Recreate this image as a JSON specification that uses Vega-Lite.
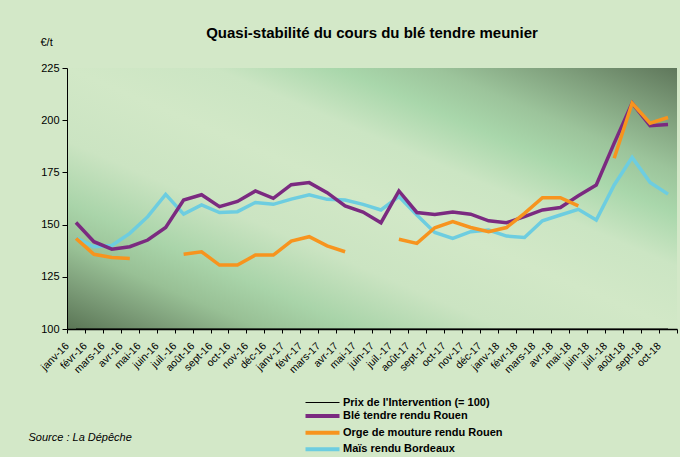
{
  "$schema": "https://vega.github.io/schema/vega-lite/v6.json",
  "autosize": "none",
  "width": 610,
  "height": 261,
  "padding": {"left": 67, "top": 68, "right": 3, "bottom": 128},
  "background": "#d3e8c8",
  "config": {
    "font": "Liberation Sans",
    "view": {
      "stroke": null,
      "fill": {
        "gradient": "linear",
        "x1": 0, "y1": 1, "x2": 1, "y2": 0,
        "stops": [
          {"offset": 0, "color": "#5a7555"},
          {"offset": 0.08, "color": "#7a9a76"},
          {"offset": 0.16, "color": "#98c095"},
          {"offset": 0.24, "color": "#a9d4a9"},
          {"offset": 0.36, "color": "#cbe4c2"},
          {"offset": 0.5, "color": "#d2e8c7"},
          {"offset": 0.62, "color": "#cbe5c3"},
          {"offset": 0.72, "color": "#a9d7ab"},
          {"offset": 0.8, "color": "#9cc49b"},
          {"offset": 0.9, "color": "#7f9f7c"},
          {"offset": 1, "color": "#5f775b"}
        ]
      }
    }
  },
  "title": {
    "text": "Quasi-stabilité du cours du blé tendre meunier",
    "anchor": "middle",
    "fontSize": 15,
    "fontWeight": "bold",
    "color": "#000000",
    "baseline": "alphabetic",
    "offset": -17
  },
  "data": {
    "values": [
      {"mois": "janv-16", "prix": 100, "ble": 151.0, "orge": 143.4, "mais": 143.7},
      {"mois": "févr-16", "prix": 100, "ble": 141.8, "orge": 135.8, "mais": 139.4},
      {"mois": "mars-16", "prix": 100, "ble": 138.2, "orge": 134.2, "mais": 140.0},
      {"mois": "avr-16", "prix": 100, "ble": 139.4, "orge": 133.8, "mais": 145.8},
      {"mois": "mai-16", "prix": 100, "ble": 142.6, "orge": null, "mais": 153.8},
      {"mois": "juin-16", "prix": 100, "ble": 148.6, "orge": null, "mais": 164.5},
      {"mois": "juil.-16", "prix": 100, "ble": 161.8, "orge": 135.8, "mais": 155.0},
      {"mois": "août-16", "prix": 100, "ble": 164.3, "orge": 137.0, "mais": 159.4},
      {"mois": "sept-16", "prix": 100, "ble": 158.6, "orge": 130.6, "mais": 155.8},
      {"mois": "oct-16", "prix": 100, "ble": 161.1, "orge": 130.6, "mais": 156.2},
      {"mois": "nov-16", "prix": 100, "ble": 166.1, "orge": 135.4, "mais": 160.6},
      {"mois": "déc-16", "prix": 100, "ble": 162.6, "orge": 135.4, "mais": 159.7},
      {"mois": "janv-17", "prix": 100, "ble": 169.1, "orge": 142.1, "mais": 162.2},
      {"mois": "févr-17", "prix": 100, "ble": 170.1, "orge": 144.2, "mais": 164.3},
      {"mois": "mars-17", "prix": 100, "ble": 165.3, "orge": 139.8, "mais": 162.1},
      {"mois": "avr-17", "prix": 100, "ble": 158.9, "orge": 137.0, "mais": 161.8},
      {"mois": "mai-17", "prix": 100, "ble": 156.0, "orge": null, "mais": 159.7},
      {"mois": "juin-17", "prix": 100, "ble": 150.9, "orge": null, "mais": 157.0},
      {"mois": "juil.-17", "prix": 100, "ble": 166.1, "orge": 143.0, "mais": 163.4},
      {"mois": "août-17", "prix": 100, "ble": 155.8, "orge": 141.0, "mais": 154.6},
      {"mois": "sept-17", "prix": 100, "ble": 154.9, "orge": 148.5, "mais": 146.2},
      {"mois": "oct-17", "prix": 100, "ble": 156.0, "orge": 151.4, "mais": 143.4},
      {"mois": "nov-17", "prix": 100, "ble": 155.0, "orge": 148.6, "mais": 146.6},
      {"mois": "déc-17", "prix": 100, "ble": 151.8, "orge": 146.6, "mais": 147.4},
      {"mois": "janv-18", "prix": 100, "ble": 150.9, "orge": 148.6, "mais": 144.5},
      {"mois": "févr-18", "prix": 100, "ble": 153.8, "orge": 155.4, "mais": 143.8},
      {"mois": "mars-18", "prix": 100, "ble": 157.0, "orge": 162.9, "mais": 151.8},
      {"mois": "avr-18", "prix": 100, "ble": 158.2, "orge": 162.9, "mais": 154.6},
      {"mois": "mai-18", "prix": 100, "ble": 163.8, "orge": 159.0, "mais": 157.3},
      {"mois": "juin-18", "prix": 100, "ble": 169.0, "orge": null, "mais": 152.2},
      {"mois": "juil.-18", "prix": 100, "ble": 189.0, "orge": 181.8, "mais": 169.0},
      {"mois": "août-18", "prix": 100, "ble": 208.2, "orge": 208.2, "mais": 182.2},
      {"mois": "sept-18", "prix": 100, "ble": 197.4, "orge": 198.6, "mais": 170.2},
      {"mois": "oct-18", "prix": 100, "ble": 197.9, "orge": 201.3, "mais": 164.6}
    ]
  },
  "transform": [
    {"fold": ["prix", "mais", "ble", "orge"], "as": ["serie", "valeur"]}
  ],
  "mark": {"type": "line", "invalid": "break-paths-show-domains", "clip": true},
  "encoding": {
    "x": {
      "field": "mois",
      "type": "ordinal",
      "sort": null,
      "scale": {"type": "band", "paddingInner": 0, "paddingOuter": 0},
      "axis": {
        "title": "Source : La Dépêche",
        "titleX": -39,
        "titleY": 108,
        "titleAlign": "left",
        "titleBaseline": "middle",
        "titleAnchor": "start",
        "titleFontStyle": "italic",
        "titleFontWeight": "normal",
        "titleFontSize": 11,
        "titleColor": "#000000",
        "labelAngle": -45,
        "labelAlign": "right",
        "labelBaseline": "middle",
        "labelFontSize": 10.5,
        "labelColor": "#000000",
        "labelPadding": 11,
        "labelOffset": -9,
        "labelOverlap": false,
        "tickBand": "extent",
        "tickSize": 4,
        "tickColor": "#000000",
        "domainColor": "#000000",
        "domainWidth": 1.5,
        "grid": false
      }
    },
    "y": {
      "field": "valeur",
      "type": "quantitative",
      "scale": {"domain": [100, 225], "nice": false, "zero": false},
      "axis": {
        "values": [100, 125, 150, 175, 200, 225],
        "title": "€/t",
        "titleAngle": 0,
        "titleX": -27,
        "titleY": -26,
        "titleAlign": "left",
        "titleBaseline": "middle",
        "titleFontSize": 11,
        "titleFontWeight": "normal",
        "titleColor": "#000000",
        "labelFontSize": 11,
        "labelColor": "#000000",
        "labelPadding": 3,
        "tickSize": 5,
        "tickColor": "#000000",
        "domainColor": "#000000",
        "grid": false
      }
    },
    "color": {
      "field": "serie",
      "type": "nominal",
      "scale": {
        "domain": ["prix", "ble", "orge", "mais"],
        "range": ["#000000", "#7b2a80", "#f7941e", "#6dcde0"]
      },
      "legend": {
        "title": null,
        "orient": "none",
        "legendX": 250,
        "legendY": 329,
        "symbolType": "stroke",
        "symbolSize": 1156,
        "rowPadding": -0.4,
        "labelFontSize": 11,
        "labelFontWeight": "bold",
        "labelColor": "#000000",
        "labelOffset": 15,
        "labelExpr": "datum.value == 'prix' ? \"Prix de l'Intervention (= 100)\" : datum.value == 'ble' ? 'Blé tendre rendu Rouen' : datum.value == 'orge' ? 'Orge de mouture rendu Rouen' : 'Maïs rendu Bordeaux'",
        "encode": {
          "symbols": {
            "update": {
              "strokeWidth": {"signal": "datum.value == 'prix' ? 1.2 : 4"}
            }
          }
        }
      }
    },
    "strokeWidth": {
      "condition": {"test": "datum.serie == 'prix'", "value": 1.2},
      "value": 3.5
    }
  }
}
